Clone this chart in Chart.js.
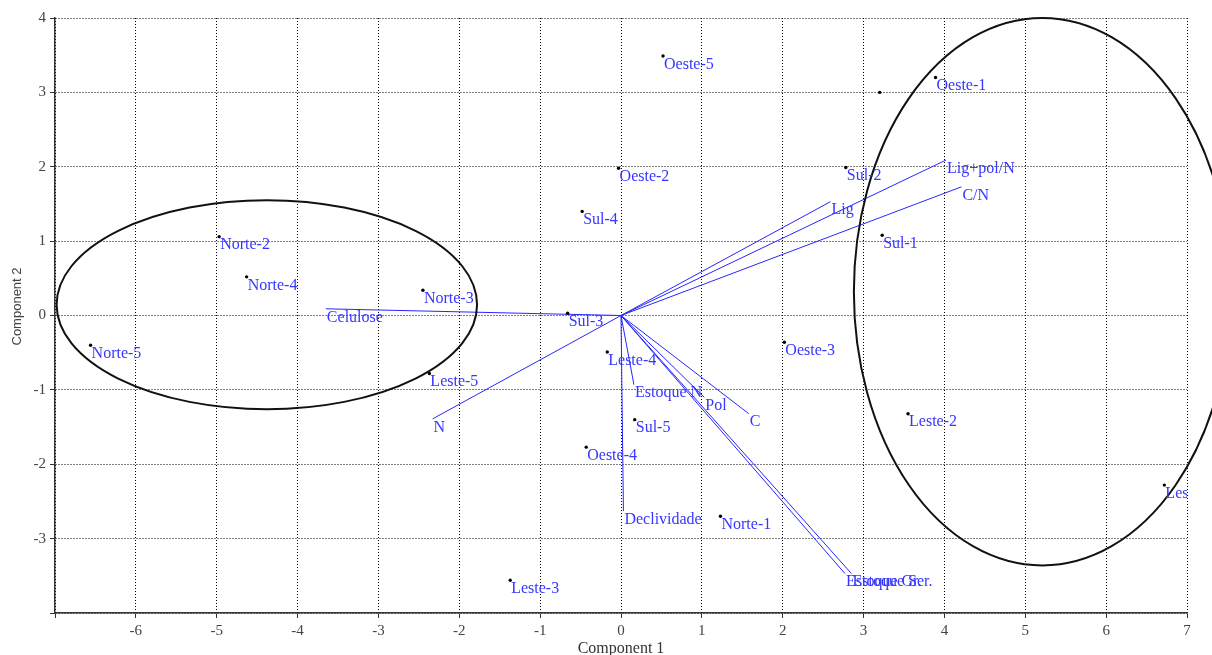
<!DOCTYPE html>
<html>
<head>
<meta charset="utf-8">
<script src="https://cdn.jsdelivr.net/npm/chart.js@4"></script>
<style>
  html, body { margin: 0; padding: 0; background: #ffffff; }
  canvas { display: block; }
</style>
</head>
<body>
<canvas id="c" width="1212" height="655"></canvas>
<script>
// ---- Sample scores (Component 1, Component 2) ----
const sampleNames = ['Oeste-5','Oeste-1','','Oeste-2','Sul-2','Sul-4','Norte-2','Sul-1','Norte-4','Norte-3','Sul-3',
                     'Norte-5','Oeste-3','Leste-4','Leste-5','Sul-5','Leste-2','Oeste-4','Leste-1','Norte-1','Leste-3'];
const sampleX = [0.52, 3.89, 3.20, -0.03, 2.78, -0.48, -4.97, 3.23, -4.63, -2.45, -0.66,
                 -6.56, 2.02, -0.17, -2.37, 0.17, 3.55, -0.43, 6.72, 1.23, -1.37];
const sampleY = [3.49, 3.20, 3.00, 1.98, 1.99, 1.40, 1.06, 1.08, 0.52, 0.34, 0.03,
                 -0.40, -0.36, -0.49, -0.78, -1.40, -1.32, -1.77, -2.28, -2.70, -3.56];

// ---- Variable loadings (vectors from the origin) ----
const varNames = ['Lig+pol/N','C/N','Lig','Celulose','N','Estoque N','Pol','C','Declividade','Estoque Gr.','Estoque Ser.'];
const varX = [4.02, 4.21, 2.59, -3.65, -2.33, 0.16, 1.03, 1.58, 0.03, 2.77, 2.85];
const varY = [2.09, 1.73, 1.53, 0.09, -1.39, -0.93, -1.10, -1.32, -2.63, -3.47, -3.47];

// ---- Group ellipses ----
const ellipseCX = [-4.38, 5.21];
const ellipseCY = [0.145, 0.32];
const ellipseRX = [2.60, 2.33];
const ellipseRY = [1.405, 3.68];

// ---- Axis ranges ----
const xMin = -7, xMax = 7, yMin = -4, yMax = 4;

const BLUE_LINE = '#2626ff';
const BLUE_TEXT = '#3636ff';

const datasets = [];
varNames.forEach((name, i) => {
  datasets.push({
    type: 'scatter',
    label: name,
    data: [{x: 0, y: 0}, {x: varX[i], y: varY[i]}],
    showLine: true,
    borderColor: BLUE_LINE,
    borderWidth: 1,
    pointRadius: 0,
    fill: false,
    order: 2
  });
});
datasets.push({
  type: 'scatter',
  label: 'samples',
  data: sampleX.map((x, i) => ({x: x, y: sampleY[i]})),
  pointRadius: 1.7,
  pointBackgroundColor: '#000',
  pointBorderWidth: 0,
  order: 1
});

const ellipsePlugin = {
  id: 'ellipses',
  afterDatasetsDraw(chart) {
    const {ctx, scales: {x, y}} = chart;
    ctx.save();
    ctx.strokeStyle = '#111';
    ctx.lineWidth = 2;
    ellipseCX.forEach((cx, i) => {
      const px = x.getPixelForValue(cx);
      const py = y.getPixelForValue(ellipseCY[i]);
      const rx = Math.abs(x.getPixelForValue(cx + ellipseRX[i]) - px);
      const ry = Math.abs(y.getPixelForValue(ellipseCY[i] + ellipseRY[i]) - py);
      ctx.beginPath();
      ctx.ellipse(px, py, rx, ry, 0, 0, Math.PI * 2);
      ctx.stroke();
    });
    ctx.restore();
  }
};

const labelPlugin = {
  id: 'pointLabels',
  afterDatasetsDraw(chart) {
    const {ctx, chartArea: a, scales: {x, y}} = chart;
    ctx.save();
    ctx.beginPath();
    ctx.rect(a.left, a.top, a.right - a.left, a.bottom - a.top);
    ctx.clip();
    ctx.fillStyle = BLUE_TEXT;
    ctx.font = '16px "Liberation Serif", "Times New Roman", serif';
    ctx.textAlign = 'left';
    ctx.textBaseline = 'top';
    sampleNames.forEach((n, i) => {
      if (!n) return;
      ctx.fillText(n, x.getPixelForValue(sampleX[i]) + 1, y.getPixelForValue(sampleY[i]) + 0.5);
    });
    varNames.forEach((n, i) => {
      ctx.fillText(n, x.getPixelForValue(varX[i]) + 1, y.getPixelForValue(varY[i]) + 0.5);
    });
    ctx.restore();
  }
};

new Chart(document.getElementById('c'), {
  type: 'scatter',
  data: { datasets },
  plugins: [ellipsePlugin, labelPlugin],
  options: {
    responsive: false,
    animation: false,
    devicePixelRatio: 1,
    layout: { padding: { top: 18, right: 25, left: 0, bottom: 0 } },
    plugins: { legend: { display: false }, tooltip: { enabled: false } },
    scales: {
      x: {
        type: 'linear',
        min: xMin, max: xMax,
        afterFit(s) { s.height = 42; },
        ticks: {
          stepSize: 1,
          callback: v => (v === xMin ? '' : v),
          font: { family: '"Liberation Serif", serif', size: 15 },
          color: '#444',
          padding: 4,
          maxRotation: 0
        },
        grid: {
          color: '#000',
          lineWidth: 1,
          tickLength: 5,
          tickColor: '#333',
          tickBorderDash: []
        },
        border: { display: true, color: '#333', width: 1.5, dash: [1, 2] },
        title: {
          display: true,
          text: 'Component 1',
          font: { family: '"Liberation Serif", serif', size: 16 },
          color: '#333',
          padding: { top: 0, bottom: -3 }
        }
      },
      y: {
        type: 'linear',
        min: yMin, max: yMax,
        afterFit(s) { s.width = 55; },
        ticks: {
          stepSize: 1,
          callback: v => (v === yMin ? '' : v),
          font: { family: '"Liberation Serif", serif', size: 15 },
          color: '#444',
          padding: 4
        },
        grid: {
          color: '#000',
          lineWidth: 1,
          tickLength: 5,
          tickColor: '#333',
          tickBorderDash: []
        },
        border: { display: true, color: '#333', width: 1.5, dash: [1, 2] },
        title: {
          display: true,
          text: '     Component 2',
          font: { family: '"Liberation Sans", Arial, sans-serif', size: 13 },
          color: '#444',
          padding: { top: 10, bottom: 0 }
        }
      }
    }
  }
});
</script>
</body>
</html>
